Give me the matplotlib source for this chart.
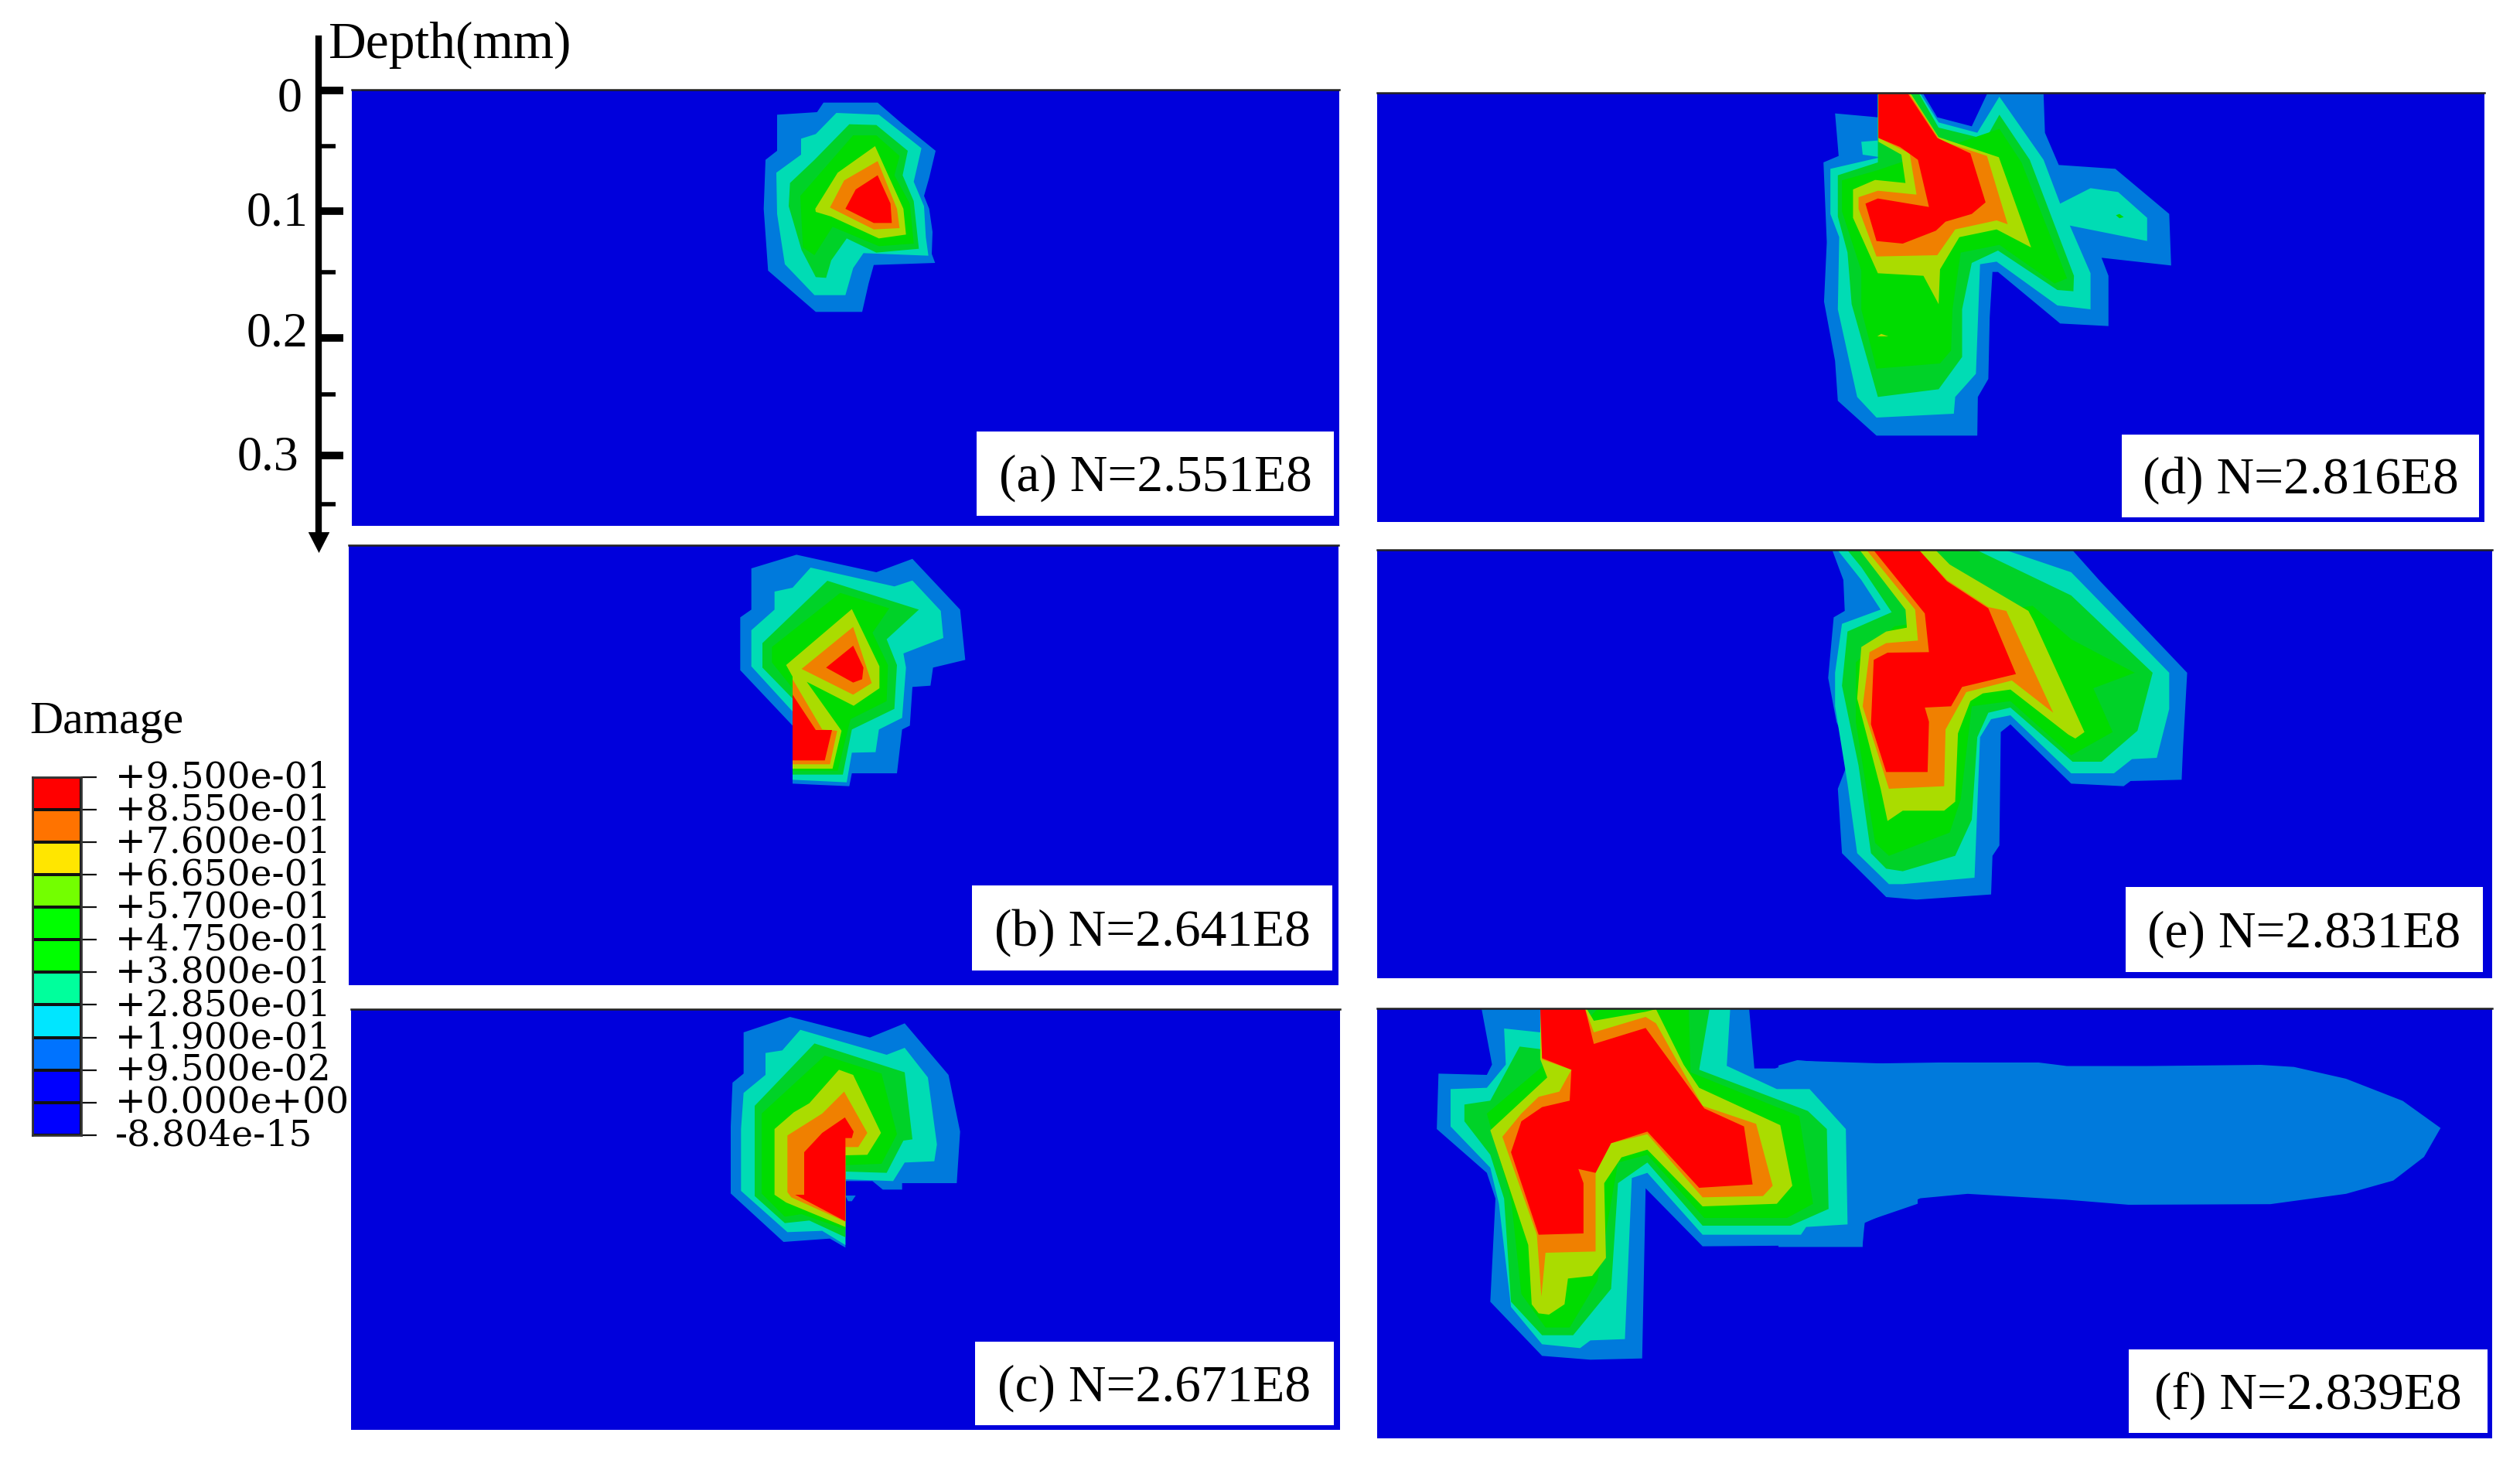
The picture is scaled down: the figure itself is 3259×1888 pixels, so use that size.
import matplotlib
matplotlib.use('Agg')
import matplotlib.pyplot as plt
import numpy as np
from matplotlib.colors import ListedColormap
from matplotlib.patches import Polygon, Rectangle
from matplotlib.transforms import ScaledTranslation

W, H = 3259, 1888

# contour colours seen in the panels
BG = '#0000DC'
BLUE = '#007ADC'
TEAL = '#00DCB4'
GREEN1 = '#00D228'
GREEN2 = '#00DC00'
YGREEN = '#AADC00'
ORANGE = '#F08000'
RED = '#FF0000'

# colorbar
level_labels = ['-8.804e-15', '+0.000e+00', '+9.500e-02', '+1.900e-01', '+2.850e-01', '+3.800e-01',
                '+4.750e-01', '+5.700e-01', '+6.650e-01', '+7.600e-01', '+8.550e-01', '+9.500e-01']
level_colors = ['#0000FF', '#0000FF', '#0073FF', '#00E6FF', '#00FF9C', '#00FF00',
                '#00FF00', '#73FF00', '#FFE600', '#FF7300', '#FF0000']

# depth axis, y position of the ticks in the picture
major_y = [117, 273, 437, 589]
minor_y = [189, 352, 510, 652]
depth_labels = ['0', '0.1', '0.2', '0.3']
depth_label_x = [390, 398, 398, 386]
depth_label_y = [128, 277, 433, 593]

a_blue = [(135,85),(290,75),(315,38),(525,38),(620,120),(750,225),(725,330),(705,400),(725,450),(738,540),(735,625),(748,660),(510,668),(490,740),(465,850),(285,850),(100,690),(83,450),(90,260),(135,225)]
a_teal = [(228,178),(285,160),(365,78),(530,85),(695,215),(665,345),(705,440),(712,560),(722,632),(470,622),(430,680),(400,785),(280,785),(165,665),(135,470),(132,310),(228,240)]
a_green1 = [(185,350),(280,260),(415,122),(520,125),(642,225),(622,320),(665,420),(685,605),(520,620),(405,565),(345,650),(325,718),(285,715),(230,610),(180,440)]
a_green2 = [(225,400),(430,165),(520,165),(610,245),(590,320),(650,430),(665,585),(530,595),(350,520),(280,630),(235,600)]
a_ygreen = [(283,450),(370,310),(515,207),(530,240),(625,450),(635,550),(530,565),(345,480),(285,462)]
a_orange = [(340,445),(395,340),(525,265),(600,450),(610,525),(510,530)]
a_red = [(400,450),(440,375),(525,320),(575,430),(580,505),(510,505)]

b_blue = [(215,135),(390,82),(700,150),(840,98),(1025,295),(1045,490),(920,520),(910,590),(840,595),(830,745),(800,760),(780,930),(605,930),(595,980),(480,975),(375,970),(375,745),(172,530),(172,325),(215,295)]
b_teal = [(305,225),(375,210),(445,132),(770,205),(840,182),(950,300),(960,405),(805,465),(815,520),(800,715),(710,760),(697,848),(605,850),(585,965),(375,955),(375,690),(215,515),(215,375),(305,295)]
b_green1 = [(258,425),(510,183),(865,295),(740,410),(780,510),(770,680),(605,760),(570,935),(375,935),(375,640),(258,520)]
b_green2 = [(295,440),(560,230),(750,290),(685,385),(745,510),(740,650),(600,720),(550,920),(375,920),(375,600),(295,500)]
b_ygreen = [(350,510),(605,293),(712,515),(712,600),(612,668),(430,575),(565,765),(530,912),(375,912),(375,555)]
b_orange = [(410,525),(610,362),(682,580),(610,625)]
b_orange2 = [(375,565),(490,760),(548,765),(520,895),(375,895)]
b_red = [(505,520),(610,435),(650,520),(645,565),(610,578)]
b_red2 = [(375,625),(465,762),(528,762),(500,880),(375,880)]

c_blue = [(185,135),(365,75),(675,155),(810,100),(980,300),(1025,520),(1012,720),(800,720),(800,745),(725,745),(685,712),(580,712),(580,970),(520,935),(340,948),(135,760),(135,500),(142,330),(185,295)]
c_blue2 = [(580,768),(620,768),(605,790),(590,790)]
c_teal = [(270,215),(335,205),(405,125),(740,222),(810,195),(900,310),(935,570),(925,635),(810,640),(765,712),(580,705),(580,960),(490,905),(355,910),(175,750),(175,510),(185,370),(270,300)]
c_green1 = [(228,420),(460,178),(810,290),(840,550),(805,555),(740,680),(580,675),(580,930),(440,865),(345,875),(228,770)]
c_green2 = [(255,450),(500,225),(720,295),(780,530),(720,645),(580,650),(580,900),(410,840),(345,850),(255,760)]
c_ygreen = [(305,510),(380,445),(440,410),(555,280),(610,300),(718,525),(665,610),(580,612),(580,890),(350,795),(305,765)]
c_orange = [(355,535),(490,450),(575,365),(665,525),(630,580),(580,580),(580,870),(370,775),(355,755)]
c_red = [(420,600),(490,525),(578,465),(612,520),(605,545),(580,545),(580,868),(385,765),(420,765)]

d_blue = [(205,140),(360,155),(360,65),(525,65),(575,155),(700,190),(755,65),(960,65),(965,215),(1015,340),(1220,355),(1415,530),(1422,730),(1170,700),(1195,770),(1195,965),(1020,955),(795,755),(775,755),(765,930),(760,1170),(722,1240),(720,1390),(355,1390),(215,1255),(205,1100),(165,870),(175,640),(163,330),(218,305)]
d_teal = [(300,250),(360,245),(360,65),(515,65),(580,175),(720,215),(800,75),(960,320),(1020,490),(1130,430),(1230,445),(1335,545),(1335,635),(1055,575),(1130,760),(1130,900),(1010,885),(790,715),(730,725),(715,1150),(640,1240),(635,1305),(355,1320),(285,1240),(215,900),(220,620),(188,530),(188,355),(370,310),(305,300)]
d_green1 = [(215,380),(360,330),(360,65),(510,65),(580,195),(750,240),(800,145),(910,320),(1070,770),(1068,830),(1010,825),(795,672),(700,720),(665,900),(665,1085),(580,1210),(360,1240),(265,880),(250,680),(215,540)]
d_green2 = [(230,400),(360,360),(800,200),(880,330),(1045,780),(1000,800),(800,650),(660,680),(630,900),(625,1060),(585,1110),(355,1130),(300,900),(300,750),(230,520)]
d_green3 = [(1222,535),(1235,530),(1250,542),(1235,547)]
d_ygreen = [(270,435),(350,398),(460,410),(445,300),(362,250),(362,65),(480,65),(580,232),(798,310),(915,660),(790,590),(655,620),(585,745),(580,880),(525,770),(360,760),(270,545)]
d_ygreen2 = [(358,1005),(372,995),(398,1005)]
d_orange = [(290,465),(360,440),(500,455),(475,295),(362,235),(362,65),(475,65),(585,245),(755,305),(830,570),(790,555),(640,590),(575,690),(355,695),(290,510)]
d_red = [(315,490),(360,470),(545,503),(505,320),(440,270),(362,235),(362,65),(470,65),(575,235),(695,295),(750,485),(700,530),(605,560),(570,595),(450,645),(355,635)]

e_blue = [(195,35),(1065,35),(1165,155),(1480,510),(1465,800),(1460,925),(1275,930),(1250,950),(1060,940),(840,710),(805,740),(800,1180),(775,1220),(770,1370),(500,1390),(390,1380),(230,1210),(215,960),(260,835),(210,700),(180,530),(200,295),(240,270),(235,150)]
e_teal = [(215,35),(825,35),(1060,120),(1415,510),(1415,650),(1370,840),(1280,845),(1215,900),(1060,900),(840,675),(770,690),(730,760),(710,1305),(450,1330),(400,1330),(285,1210),(250,940),(205,640),(205,510),(230,320),(370,265),(300,150)]
e_green1 = [(250,35),(720,35),(1060,210),(1355,510),(1300,735),(1170,855),(1065,855),(840,645),(760,665),(720,760),(700,1080),(640,1220),(450,1280),(390,1270),(335,1210),(290,870),(230,560),(250,350),(410,275),(300,100)]
e_green2 = [(280,470),(420,330),(920,250),(1060,380),(1290,510),(1140,570),(1210,740),(1060,830),(840,620),(700,640),(660,1000),(620,1130),(400,1220),(350,1170),(280,700)]
e_ygreen = [(295,35),(570,35),(620,90),(905,270),(925,310),(1108,740),(1075,765),(1050,750),(840,575),(740,590),(695,620),(650,745),(640,1010),(600,1045),(450,1045),(395,1085),(370,960),(285,610),(300,410),(390,350),(465,335),(460,265)]
e_orange = [(320,35),(495,265),(505,385),(390,395),(330,430),(305,640),(400,960),(600,950),(605,730),(680,585),(845,540),(995,665),(825,270),(760,255),(610,150),(510,35)]
e_red = [(345,35),(510,35),(610,155),(760,260),(860,515),(665,565),(625,640),(530,645),(545,700),(540,895),(390,895),(335,710),(345,460),(395,432),(545,430),(530,280)]

f_plume = [(0,230),(40,212),(130,225),(340,220),(550,220),(610,232),(780,232),(1020,228),(1090,235),(1200,275),(1320,350),(1400,442),(1365,540),(1300,620),(1200,665),(1040,700),(740,702),(610,685),(400,665),(300,680),(180,765),(178,845),(0,845)]
f_blue = [(305,45),(1080,45),(1095,275),(1155,275),(1220,245),(1568,260),(1568,800),(1415,870),(1408,960),(945,965),(780,740),(770,1400),(620,1405),(480,1390),(330,1180),(345,780),(320,680),(175,510),(180,295),(320,300),(335,260)]
f_teal = [(370,120),(475,135),(475,45),(1025,45),(1015,265),(1160,355),(1255,355),(1360,510),(1365,880),(1245,890),(1230,920),(945,920),(785,680),(740,700),(720,1325),(620,1330),(590,1360),(480,1345),(390,1200),(355,800),(330,660),(215,500),(215,355),(320,350),(375,260)]
f_green1 = [(255,415),(330,400),(415,190),(475,200),(475,45),(965,45),(935,280),(1250,440),(1305,510),(1310,820),(1200,885),(945,885),(785,640),(700,720),(680,1130),(570,1310),(480,1310),(390,1180),(370,780),(330,610),(255,480)]
f_green2 = [(320,450),(470,280),(640,45),(905,45),(910,290),(1225,460),(1265,800),(1190,855),(950,855),(785,610),(700,640),(640,1100),(560,1280),(490,1280),(420,1150),(390,780)]
f_ygreen = [(330,515),(495,310),(475,240),(475,45),(610,45),(630,90),(780,55),(810,45),(890,260),(935,350),(1170,495),(1205,730),(1160,800),(945,810),(785,590),(710,620),(660,720),(665,1010),(625,1080),(555,1090),(545,1190),(500,1230),(470,1225),(450,1190),(440,960)]
f_orange = [(365,540),(420,450),(470,385),(530,365),(565,280),(480,240),(475,45),(605,45),(630,135),(780,75),(810,100),(885,280),(945,420),(1100,490),(1148,730),(1120,770),(945,775),(785,530),(680,565),(635,680),(635,985),(490,990),(478,1160),(465,920)]
f_red = [(390,600),(420,480),(480,425),(560,400),(565,280),(480,235),(475,45),(605,45),(630,180),(780,118),(885,310),(950,430),(1065,500),(1090,725),(935,738),(785,520),(680,565),(635,680),(585,665),(600,720),(600,915),(470,920)]

# crop the contours were read in: left, top, x scale, y scale
crop_a = (960, 120, 3, 3)
crop_b = (900, 690, 3, 3)
crop_c = (900, 1290, 3, 3)
crop_d = (2300, 100, 2.8, 3)
crop_e = (2300, 700, 2.8, 3)
crop_f = (1780, 1290, 2.24, 3)
crop_f2 = (2300, 1290, 1.635, 2.62)

panels = [
    dict(label='(a) N=2.551E8', rect=(455, 116, 1732, 680), box=(1263, 558, 1725, 667), layers=[
        (BLUE, a_blue, crop_a), (TEAL, a_teal, crop_a), (GREEN1, a_green1, crop_a), (GREEN2, a_green2, crop_a),
        (YGREEN, a_ygreen, crop_a), (ORANGE, a_orange, crop_a), (RED, a_red, crop_a)]),
    dict(label='(b) N=2.641E8', rect=(451, 705, 1731, 1274), box=(1257, 1145, 1723, 1255), layers=[
        (BLUE, b_blue, crop_b), (TEAL, b_teal, crop_b), (GREEN1, b_green1, crop_b), (GREEN2, b_green2, crop_b),
        (YGREEN, b_ygreen, crop_b), (ORANGE, b_orange, crop_b), (ORANGE, b_orange2, crop_b),
        (RED, b_red, crop_b), (RED, b_red2, crop_b)]),
    dict(label='(c) N=2.671E8', rect=(454, 1305, 1733, 1849), box=(1261, 1735, 1725, 1843), layers=[
        (BLUE, c_blue, crop_c), (BLUE, c_blue2, crop_c), (TEAL, c_teal, crop_c), (GREEN1, c_green1, crop_c),
        (GREEN2, c_green2, crop_c), (YGREEN, c_ygreen, crop_c), (ORANGE, c_orange, crop_c), (RED, c_red, crop_c)]),
    dict(label='(d) N=2.816E8', rect=(1781, 120, 3213, 675), box=(2744, 562, 3206, 669), layers=[
        (BLUE, d_blue, crop_d), (TEAL, d_teal, crop_d), (GREEN2, d_green3, crop_d), (GREEN1, d_green1, crop_d),
        (GREEN2, d_green2, crop_d), (YGREEN, d_ygreen2, crop_d), (YGREEN, d_ygreen, crop_d),
        (ORANGE, d_orange, crop_d), (RED, d_red, crop_d)]),
    dict(label='(e) N=2.831E8', rect=(1781, 711, 3223, 1265), box=(2749, 1147, 3211, 1257), layers=[
        (BLUE, e_blue, crop_e), (TEAL, e_teal, crop_e), (GREEN1, e_green1, crop_e), (GREEN2, e_green2, crop_e),
        (YGREEN, e_ygreen, crop_e), (ORANGE, e_orange, crop_e), (RED, e_red, crop_e)]),
    dict(label='(f) N=2.839E8', rect=(1781, 1304, 3223, 1860), box=(2753, 1745, 3217, 1853), layers=[
        (BLUE, f_plume, crop_f2), (BLUE, f_blue, crop_f), (TEAL, f_teal, crop_f), (GREEN1, f_green1, crop_f),
        (GREEN2, f_green2, crop_f), (YGREEN, f_ygreen, crop_f), (ORANGE, f_orange, crop_f), (RED, f_red, crop_f)]),
]

plt.rcParams['font.family'] = ['Liberation Serif', 'DejaVu Serif']


def px_axes(fig, x0, y0, x1, y1):
    # axes placed by reference pixels, data units are reference pixels too
    ax = fig.add_axes([x0 / W, 1 - y1 / H, (x1 - x0) / W, (y1 - y0) / H])
    ax.set_xlim(x0, x1)
    ax.set_ylim(y1, y0)
    return ax


def to_px(points, crop):
    left, top, sx, sy = crop
    pts = np.array(points, dtype=float)
    pts[:, 0] = left + pts[:, 0] / sx
    pts[:, 1] = top + pts[:, 1] / sy
    return pts


fig = plt.figure(figsize=(W / 100, H / 100), dpi=100, facecolor='white')

for p in panels:
    x0, y0, x1, y1 = p['rect']
    ax = px_axes(fig, x0, y0, x1, y1)
    ax.set_facecolor(BG)
    ax.set_xticks([])
    ax.set_yticks([])
    for side in ['left', 'right', 'bottom']:
        ax.spines[side].set_visible(False)
    ax.spines['top'].set_color('#222222')
    ax.spines['top'].set_linewidth(1.8)
    for color, points, crop in p['layers']:
        ax.add_patch(Polygon(to_px(points, crop), closed=True, facecolor=color, edgecolor='none', zorder=2))
    bx0, by0, bx1, by1 = p['box']
    ax.add_patch(Rectangle((bx0, by0), bx1 - bx0, by1 - by0, facecolor='white', edgecolor='none', zorder=3))
    ax.text((bx0 + bx1) / 2, (by0 + by1) / 2 + 6, p['label'], fontsize=48.5, ha='center', va='center',
            color='black', zorder=4)

# depth axis with the arrow
ax = px_axes(fig, 412, 50, 450, 712)
ax.patch.set_visible(False)
for side in ['top', 'right', 'bottom']:
    ax.spines[side].set_visible(False)
ax.spines['left'].set_linewidth(6)
ax.spines['left'].set_bounds(50, 692)
ax.set_xticks([])
ax.set_yticks(major_y)
ax.set_yticklabels([])
ax.set_yticks(minor_y, minor=True)
ax.tick_params(axis='y', which='major', direction='in', length=23, width=7, color='black')
ax.tick_params(axis='y', which='minor', direction='in', length=16, width=4, color='black')
ax.annotate('', xy=(412.5, 715), xytext=(412.5, 689), annotation_clip=False,
            arrowprops=dict(arrowstyle='-|>,head_width=0.19,head_length=0.37', color='black', lw=0.5,
                            shrinkA=0, shrinkB=0, mutation_scale=50))
for txt, tx, ty in zip(depth_labels, depth_label_x, depth_label_y):
    ax.text(tx, ty, txt, fontsize=46, ha='right', va='center', color='black', clip_on=False)
ax.text(424, 58, 'Depth(mm)', fontsize=48.5, ha='left', va='center', color='black', clip_on=False)

# damage colorbar
ax = px_axes(fig, 42, 1004.5, 105, 1468)
cmap = ListedColormap(level_colors)
values = np.arange(len(level_colors)).reshape(-1, 1)
ax.set_xlim(0, 1)
ax.set_ylim(0, len(level_colors))
ax.pcolormesh([0, 1], np.arange(len(level_labels)), values, cmap=cmap, edgecolors='#111111', linewidth=1.6)
ax.set_xticks([])
ax.yaxis.tick_right()
ax.set_yticks(np.arange(len(level_labels)))
ax.set_yticklabels(level_labels, family=['DejaVu Serif'], fontsize=34)
ax.tick_params(axis='y', length=14.5, width=1.6, pad=17, color='#111111')
shift = ScaledTranslation(0, 4 / 100, fig.dpi_scale_trans)
for lab in ax.get_yticklabels():
    lab.set_transform(lab.get_transform() + shift)
for spine in ax.spines.values():
    spine.set_linewidth(2)
    spine.set_color('#333333')
fig.text(38 / W, 1 - 934 / H, 'Damage', fontsize=43, ha='left', va='center', color='black')

fig.savefig('out.png', dpi=100, facecolor='white')
